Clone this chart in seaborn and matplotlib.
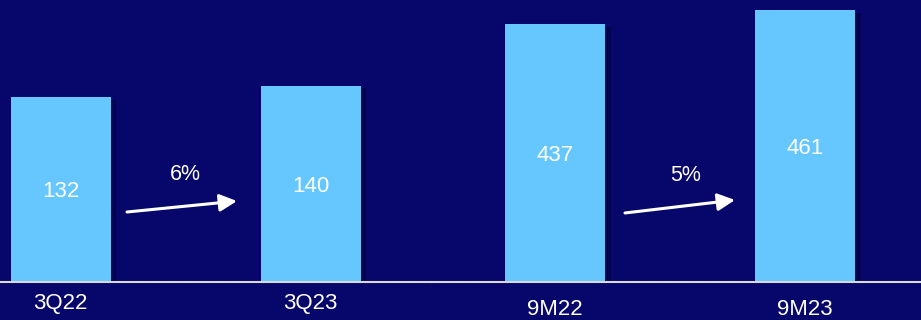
import matplotlib
matplotlib.use("Agg")
import matplotlib.pyplot as plt
import matplotlib.patheffects as pe
import seaborn as sns
import pandas as pd

# Data
quarter_periods = ["3Q22", "3Q23"]
quarter_values = [132, 140]
quarter_growth = "6%"

ytd_periods = ["9M22", "9M23"]
ytd_values = [437, 461]
ytd_growth = "5%"

BG = "#07066B"
BAR = "#66C7FF"
LINE = "#D9D9D9"

sns.set_theme(style="white")
plt.rcParams["font.family"] = ["Liberation Sans", "DejaVu Sans"]

fig = plt.figure(figsize=(9.21, 3.2), dpi=100, facecolor=BG)
W, H = 921, 320
base = 38 / H
ax1 = fig.add_axes([0, base, 432 / W, 282 / H])
ax2 = fig.add_axes([432 / W, base, (921 - 432) / W, 282 / H])


def panel(ax, cats, vals, growth, xlim, ymax, pad, arrow, txt):
    df = pd.DataFrame({"period": cats, "value": vals})
    sns.barplot(data=df, x="period", y="value", ax=ax, color=BAR,
                width=0.4, saturation=1, edgecolor="none")
    for p in ax.patches:
        p.set_path_effects([pe.SimplePatchShadow(offset=(4, -2), alpha=0.35,
                                                 shadow_rgbFace="#000020"),
                            pe.Normal()])
    ax.set_facecolor(BG)
    ax.set_xlim(*xlim)
    ax.set_ylim(0, ymax)
    for s in ["top", "right", "left"]:
        ax.spines[s].set_visible(False)
    ax.spines["bottom"].set_color(LINE)
    ax.spines["bottom"].set_linewidth(1.5)
    ax.spines["bottom"].set_zorder(5)
    ax.set_yticks([])
    ax.set_xlabel("")
    ax.set_ylabel("")
    ax.tick_params(axis="x", length=0, pad=pad, labelsize=16, labelcolor="white")
    for i, v in enumerate(vals):
        ax.text(i, v / 2, f"{v}", ha="center", va="center_baseline",
                color="white", fontsize=16)
    (x0, y0), (x1, y1) = arrow
    ax.annotate("", xy=(x1, y1), xytext=(x0, y0),
                arrowprops=dict(arrowstyle="-|>", color="white", lw=2.2,
                                mutation_scale=26, shrinkA=0, shrinkB=0))
    ax.text(txt[0], txt[1], growth, ha="center", va="center_baseline",
            color="white", fontsize=15.5)


panel(ax1, quarter_periods, quarter_values, quarter_growth,
      (-0.242, 1.486), 201, 8,
      ((0.266, 49.9), (0.706, 57.7)), (0.498, 78.4))
panel(ax2, ytd_periods, ytd_values, ytd_growth,
      (-0.492, 1.464), 478, 12.5,
      ((0.28, 117), (0.72, 139)), (0.524, 184.7))

fig.savefig("out.png", dpi=100, facecolor=BG)
